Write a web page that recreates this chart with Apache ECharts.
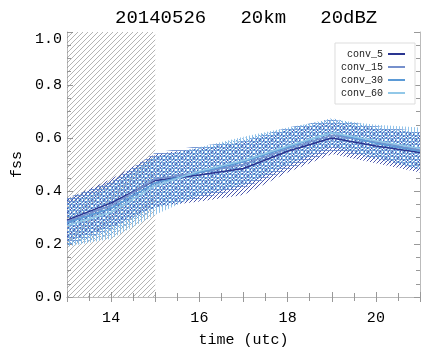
<!DOCTYPE html>
<html><head><meta charset="utf-8">
<script src="https://cdn.jsdelivr.net/npm/echarts@6/dist/echarts.min.js"></script>
<style>html,body{margin:0;padding:0;background:#fff}#c{width:424px;height:353px}</style>
</head><body><div id="c"></div>
<script>
const hours = [13, 14, 15, 16, 17, 18, 19, 20, 21];
const seriesNames = ['conv_5', 'conv_15', 'conv_30', 'conv_60'];
const conv5 = [0.29, 0.355, 0.44, 0.46, 0.485, 0.55, 0.60, 0.57, 0.545];
const conv15 = [0.285, 0.345, 0.445, 0.47, 0.50, 0.56, 0.61, 0.585, 0.555];
const conv30 = [0.28, 0.335, 0.43, 0.47, 0.51, 0.565, 0.62, 0.58, 0.55];
const conv60 = [0.27, 0.32, 0.42, 0.475, 0.515, 0.57, 0.62, 0.59, 0.56];
const conv5Err = [0.08, 0.09, 0.10, 0.10, 0.10, 0.08, 0.06, 0.065, 0.075];
const conv15Err = [0.09, 0.09, 0.10, 0.10, 0.09, 0.08, 0.06, 0.06, 0.07];
const conv30Err = [0.09, 0.10, 0.10, 0.09, 0.09, 0.07, 0.055, 0.06, 0.07];
const conv60Err = [0.08, 0.10, 0.11, 0.09, 0.09, 0.07, 0.05, 0.06, 0.08];
const xLabelTicks = [14, 16, 18, 20];
const shadeRange = [13, 15];

const lineColors = ['#2a3590', '#7690cc', '#5b9ad6', '#92c8e8'];
const hatchColors = ['rgba(45,58,160,0.85)', 'rgba(100,135,205,0.85)', 'rgba(80,145,215,0.75)', 'rgba(135,190,232,0.9)'];
const hatchKinds = ['slash', 'horizontal', 'backslash', 'vertical'];

function makePattern(kind, color, size) {
  const c = document.createElement('canvas');
  c.width = size; c.height = size;
  const g = c.getContext('2d');
  g.strokeStyle = color; g.lineWidth = 1;
  g.beginPath();
  if (kind === 'vertical') { g.moveTo(0.5, 0); g.lineTo(0.5, size); }
  else if (kind === 'horizontal') { g.moveTo(0, 0.5); g.lineTo(size, 0.5); }
  else if (kind === 'slash') {
    g.moveTo(0, size); g.lineTo(size, 0);
    g.moveTo(-1, 1); g.lineTo(1, -1);
    g.moveTo(size - 1, size + 1); g.lineTo(size + 1, size - 1);
  } else {
    g.moveTo(0, 0); g.lineTo(size, size);
    g.moveTo(size - 1, -1); g.lineTo(size + 1, 1);
    g.moveTo(-1, size - 1); g.lineTo(1, size + 1);
  }
  g.stroke();
  return { image: c, repeat: 'repeat' };
}

const means = [conv5, conv15, conv30, conv60];
const errs = [conv5Err, conv15Err, conv30Err, conv60Err];
const sizes = [4, 3, 4, 3];

function bandSeries(idx) {
  const m = means[idx], e = errs[idx];
  const data = hours.map((h, i) => [h, m[i] - e[i], m[i] + e[i]]);
  const pat = makePattern(hatchKinds[idx], hatchColors[idx], sizes[idx]);
  return {
    type: 'custom', name: seriesNames[idx] + ' band', data: data, z: 2 + idx, silent: true,
    encode: { x: 0, y: [1, 2] },
    renderItem: function (params, api) {
      const i = params.dataIndex;
      if (i >= data.length - 1) return null;
      const a = data[i], b = data[i + 1];
      const pts = [api.coord([a[0], a[1]]), api.coord([a[0], a[2]]), api.coord([b[0], b[2]]), api.coord([b[0], b[1]])];
      return { type: 'polygon', shape: { points: pts }, style: { fill: pat, stroke: null } };
    }
  };
}

const shadePattern = makePattern('slash', 'rgba(130,130,130,0.6)', 5);
const shadeSeries = {
  type: 'custom', name: 'shade', data: [shadeRange], z: 1, silent: true,
  encode: { x: [0, 1] },
  renderItem: function (params, api) {
    const p0 = api.coord([shadeRange[0], 1]);
    const p1 = api.coord([shadeRange[1], 0]);
    return { type: 'rect', shape: { x: p0[0], y: p0[1], width: p1[0] - p0[0], height: p1[1] - p0[1] }, style: { fill: shadePattern } };
  }
};

const lineSeries = seriesNames.map((n, idx) => ({
  type: 'line', name: n, data: hours.map((h, i) => [h, means[idx][i]]),
  symbol: 'none', z: 10 + idx, color: lineColors[idx],
  lineStyle: { width: 1.5, color: lineColors[idx] }
}));

const mono = 'Liberation Mono';
const tickStyle = { color: '#999', width: 1 };
function xAxisCfg(pos) {
  return {
    type: 'value', min: 13, max: 21, interval: 1, position: pos,
    axisLine: { show: true, lineStyle: { color: '#bbb' } },
    axisTick: { show: true, inside: true, length: 5, lineStyle: tickStyle },
    minorTick: { show: true, splitNumber: 2, length: 4, lineStyle: tickStyle },
    splitLine: { show: false },
    axisLabel: {
      show: pos === 'bottom', margin: 14, color: '#000', fontFamily: mono, fontSize: 15,
      formatter: v => xLabelTicks.indexOf(v) >= 0 ? String(v) : ''
    },
    name: pos === 'bottom' ? 'time (utc)' : '', nameLocation: 'middle', nameGap: 36,
    nameTextStyle: { fontFamily: mono, fontSize: 15, color: '#000' }
  };
}
function yAxisCfg(pos) {
  return {
    type: 'value', min: 0, max: 1, interval: 0.2, position: pos,
    axisLine: { show: true, lineStyle: { color: '#bbb' } },
    axisTick: { show: true, inside: true, length: 6, lineStyle: tickStyle },
    minorTick: { show: true, splitNumber: 4, length: 4, lineStyle: tickStyle },
    splitLine: { show: false },
    axisLabel: {
      show: pos === 'left', margin: 5, color: '#000', fontFamily: mono, fontSize: 15,
      formatter: v => v.toFixed(1),
      verticalAlignMaxLabel: 'top'
    },
    name: pos === 'left' ? 'fss' : '', nameLocation: 'middle', nameGap: 40, nameRotate: 90,
    nameTextStyle: { fontFamily: mono, fontSize: 15, color: '#000' }
  };
}

const chart = echarts.init(document.getElementById('c'), null, { renderer: 'canvas' });
chart.setOption({
  animation: false,
  backgroundColor: '#fff',
  title: {
    text: '20140526   20km   20dBZ', left: 110, top: 3,
    textStyle: { fontFamily: mono, fontSize: 19, fontWeight: 'normal', color: '#000' }
  },
  grid: { left: 67, right: 4, top: 32, bottom: 50, containLabel: false },
  xAxis: [xAxisCfg('bottom'), xAxisCfg('top')],
  yAxis: [yAxisCfg('left'), yAxisCfg('right')],
  legend: {
    data: seriesNames, orient: 'vertical', right: 9, top: 43, align: 'right',
    icon: 'rect', itemWidth: 17, itemHeight: 2, itemGap: 1,
    padding: [5, 10, 5, 6], borderColor: '#ddd', borderWidth: 1, backgroundColor: '#fff',
    formatter: '{a|{name}}',
    textStyle: { fontFamily: mono, fontSize: 10, color: '#222', lineHeight: 12,
      rich: { a: { width: 42, align: 'right', fontFamily: mono, fontSize: 10, lineHeight: 12 } } }
  },
  series: [shadeSeries].concat(seriesNames.map((n, i) => bandSeries(i))).concat(lineSeries)
});
</script></body></html>
